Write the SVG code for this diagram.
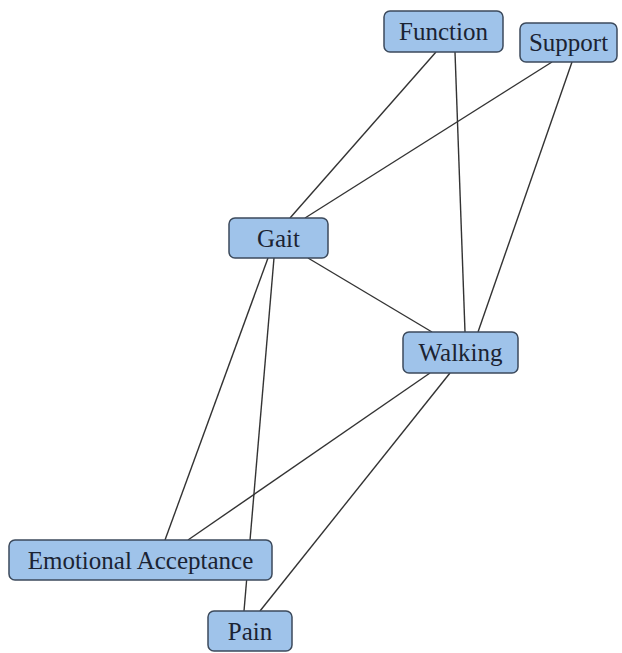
<svg xmlns="http://www.w3.org/2000/svg" width="622" height="653" viewBox="0 0 622 653">
<style>
.n rect{fill:#9fc3ea;stroke:#3c4a5c;stroke-width:1.5}
.n text{font-family:"Liberation Serif","Times New Roman",serif;font-size:25px;fill:#1b2333;text-anchor:middle}
.e line{stroke:#333;stroke-width:1.4}
</style>
<rect width="622" height="653" fill="#fff"/>
<g class="e" id="connectors">
<line x1="436" y1="52" x2="290" y2="218"/>
<line x1="455" y1="52" x2="465" y2="332"/>
<line x1="552" y1="62" x2="305" y2="218"/>
<line x1="572" y1="62" x2="478" y2="332"/>
<line x1="308" y1="258" x2="432" y2="332"/>
<line x1="268" y1="258" x2="165" y2="540"/>
<line x1="274" y1="258" x2="244" y2="611"/>
<line x1="430" y1="373" x2="188" y2="540"/>
<line x1="450" y1="373" x2="260" y2="611"/>
</g>
<g class="n" id="function"><rect x="384" y="11" width="119" height="41" rx="6"/><text x="443.5" y="40">Function</text></g>
<g class="n" id="support"><rect x="520" y="23" width="97" height="39" rx="6"/><text x="568.5" y="51">Support</text></g>
<g class="n" id="gait"><rect x="229" y="218" width="99" height="40" rx="6"/><text x="278.5" y="247">Gait</text></g>
<g class="n" id="walking"><rect x="403" y="332" width="115" height="41" rx="6"/><text x="460.5" y="361">Walking</text></g>
<g class="n" id="emotional"><rect x="9" y="540" width="263" height="40" rx="6"/><text x="140.5" y="569">Emotional Acceptance</text></g>
<g class="n" id="pain"><rect x="208" y="611" width="84" height="40" rx="6"/><text x="250" y="640">Pain</text></g>
</svg>
